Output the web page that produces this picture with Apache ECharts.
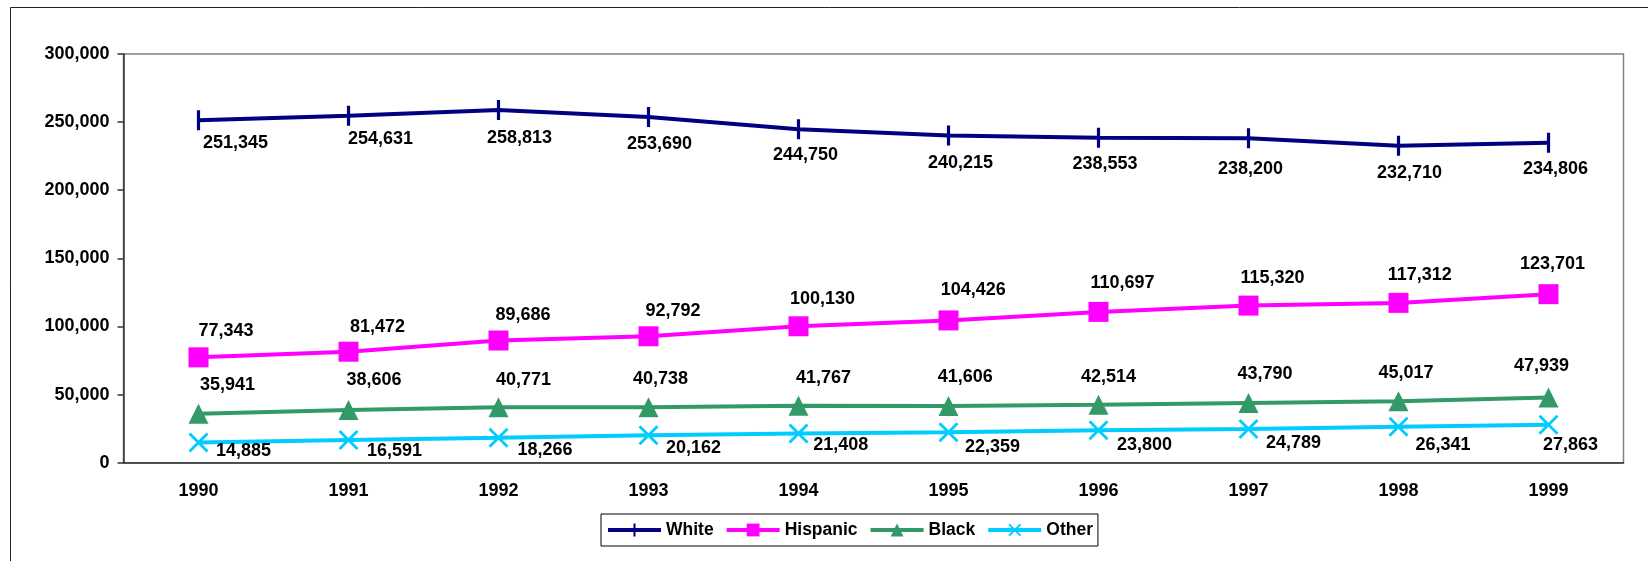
<!DOCTYPE html>
<html>
<head>
<meta charset="utf-8">
<script src="https://cdn.jsdelivr.net/npm/echarts@6/dist/echarts.min.js"></script>
<style>
html,body{margin:0;padding:0;background:#fff;}
#chart{width:1648px;height:561px;}
</style>
</head>
<body>
<div id="chart"></div>
<script>
const years = ['1990','1991','1992','1993','1994','1995','1996','1997','1998','1999'];
const white = [251345,254631,258813,253690,244750,240215,238553,238200,232710,234806];
const hispanic = [77343,81472,89686,92792,100130,104426,110697,115320,117312,123701];
const black = [35941,38606,40771,40738,41767,41606,42514,43790,45017,47939];
const other = [14885,16591,18266,20162,21408,22359,23800,24789,26341,27863];
const yTicks = [0,50000,100000,150000,200000,250000,300000];

// label nudges (pixels, relative to each point), layout only
const whiteNudgeX = [37,32,21,11,7,12,6.5,2,11,7];
const whiteNudgeY = [23,23.5,28,26.7,25.7,27.7,26.3,30.7,27,26];
const hispNudgeX = [27.5,29,24.5,24.5,24,24.7,24,24,21.2,4];
const hispNudgeY = [-26.6,-25,-25,-25.7,-27.7,-30,-29.3,-27.7,-27.7,-30];
const blackNudgeX = [29,25.5,25,12,25,16.7,10,16.5,7.5,-7];
const blackNudgeY = [-28.7,-30,-26.7,-28,-28,-29,-27.7,-29,-28.3,-31];
const otherNudgeX = [45,46,46.5,45,42.2,44,46,45,44.5,22];
const otherNudgeY = [9,10.7,12.3,12.7,11.7,15,14.3,14.3,18.3,20];

const FONT = '"Liberation Sans", Arial, sans-serif';
const fmt = v => Number(v).toLocaleString('en-US');

function build(vals, nx, ny) {
  return vals.map((v, i) => ({ value: v, label: { offset: [nx[i], ny[i]] } }));
}

const labelBase = {
  show: true,
  position: 'inside',
  color: '#000',
  fontFamily: FONT,
  fontWeight: 'bold',
  fontSize: 18,
  formatter: p => fmt(p.value)
};

const xPath = 'path://M0,1 L1,0 L5,4 L9,0 L10,1 L6,5 L10,9 L9,10 L5,6 L1,10 L0,9 L4,5 Z';
// vertical bar centred in a square box (degenerate sub-paths only widen the box)
const barPath = 'path://M8.4,0 L11.6,0 L11.6,20 L8.4,20 Z M0,10 L0,10 Z M20,10 L20,10 Z';

const chart = echarts.init(document.getElementById('chart'), null, { renderer: 'canvas' });
chart.setOption({
  animation: false,
  backgroundColor: '#fff',
  textStyle: { fontFamily: FONT },
  graphic: [{
    type: 'rect',
    shape: { x: 10.5, y: 7.5, width: 1700, height: 700 },
    style: { fill: null, stroke: '#222', lineWidth: 1 },
    silent: true,
    z: 0
  }],
  grid: {
    left: 123.5, top: 54, right: 24.5, bottom: 98.3,
    show: true, borderColor: '#808080', borderWidth: 1.5,
    backgroundColor: 'transparent'
  },
  legend: {
    left: 601, top: 514,
    padding: [6, 5, 6, 5],
    itemGap: 11,
    itemWidth: 53,
    itemHeight: 16,
    borderColor: '#000',
    borderWidth: 1,
    lineStyle: { width: 4 },
    textStyle: { fontFamily: FONT, fontWeight: 'bold', fontSize: 17.5, color: '#000', lineHeight: 20 },
    data: ['White','Hispanic','Black','Other']
  },
  xAxis: {
    type: 'category',
    data: years,
    boundaryGap: true,
    axisLine: { lineStyle: { color: '#333', width: 1.5 } },
    axisTick: { show: false },
    axisLabel: { margin: 19, color: '#000', fontFamily: FONT, fontWeight: 'bold', fontSize: 18 },
    splitLine: { show: false }
  },
  yAxis: {
    type: 'value',
    min: yTicks[0],
    max: yTicks[yTicks.length - 1],
    interval: yTicks[1] - yTicks[0],
    axisLine: { show: true, lineStyle: { color: '#333', width: 1.5 } },
    axisTick: { show: true, length: 6, inside: false, lineStyle: { color: '#333', width: 1.5 } },
    axisLabel: { margin: 14, color: '#000', fontFamily: FONT, fontWeight: 'bold', fontSize: 18, formatter: v => fmt(v) },
    splitLine: { show: false }
  },
  series: [
    {
      name: 'White', type: 'line', data: build(white, whiteNudgeX, whiteNudgeY),
      color: '#000080',
      lineStyle: { width: 4, color: '#000080' },
      itemStyle: { color: '#000080' },
      symbol: barPath, symbolSize: 20,
      label: labelBase
    },
    {
      name: 'Hispanic', type: 'line', data: build(hispanic, hispNudgeX, hispNudgeY),
      color: '#FF00FF',
      lineStyle: { width: 4, color: '#FF00FF' },
      itemStyle: { color: '#FF00FF' },
      symbol: 'rect', symbolSize: 20,
      label: labelBase
    },
    {
      name: 'Black', type: 'line', data: build(black, blackNudgeX, blackNudgeY),
      color: '#339966',
      lineStyle: { width: 4, color: '#339966' },
      itemStyle: { color: '#339966' },
      symbol: 'triangle', symbolSize: 20,
      label: labelBase
    },
    {
      name: 'Other', type: 'line', data: build(other, otherNudgeX, otherNudgeY),
      color: '#00CCFF',
      lineStyle: { width: 4, color: '#00CCFF' },
      itemStyle: { color: '#00CCFF' },
      symbol: xPath, symbolSize: 20,
      label: labelBase
    }
  ]
});
</script>
</body>
</html>
